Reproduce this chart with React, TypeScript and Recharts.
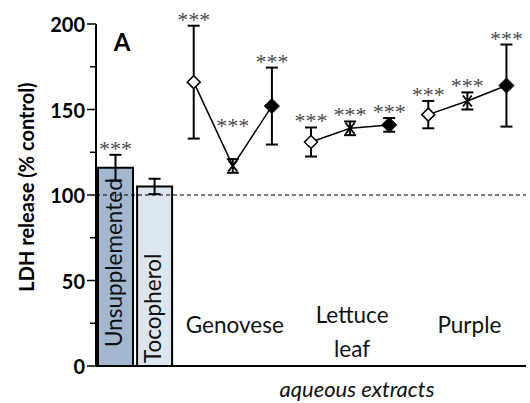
import { Bar, Cell, ComposedChart, ErrorBar, LabelList, Line, ReferenceLine, XAxis, YAxis } from "recharts";

// control wells (bars)
const controlNames = ["Unsupplemented", "Tocopherol"];
const controlMean = [116, 105];
const controlErr = [7.5, 4.5];
const controlStars = ["***", ""];

// aqueous extracts, three points per extract
const extractNames = ["Genovese", "Lettuce leaf", "Purple"];
const genoveseMean = [166, 117, 152];
const genoveseErr = [33, 4, 22.5];
const lettuceMean = [131, 139, 141];
const lettuceErr = [8.5, 4, 4];
const purpleMean = [147, 155, 164];
const purpleErr = [8, 5, 24];
const extractStars = ["***", "***", "***"];

const yTicks = [0, 25, 50, 75, 100, 125, 150, 175, 200];

const SANS = "Lato, 'Open Sans', sans-serif";
const barFills = ["#a3b8cf", "#dce6ee"];
// where the rotated name starts, measured up from the axis
const barTextLift = [19, 3];
const markerKinds = ["open", "cross", "filled"];
// share of the gap to a neighbour that the *** text spans sideways
const starHalfSpan = 0.4;

const extractSeries = [
  { key: "genovese", mean: genoveseMean, err: genoveseErr },
  { key: "lettuce", mean: lettuceMean, err: lettuceErr },
  { key: "purple", mean: purpleMean, err: purpleErr },
];

// lift the *** above the error bar, and above the joining line where it would cross it
const starLevel = (mean: number[], err: number[], j: number) => {
  let top = mean[j] + err[j];
  [j - 1, j + 1].forEach((k) => {
    if (k >= 0 && k < mean.length) {
      top = Math.max(top, mean[j] + starHalfSpan * (mean[k] - mean[j]));
    }
  });
  return top;
};

type Row = Record<string, string | number | null>;
const rows: Row[] = [];
controlNames.forEach((name, i) => {
  rows.push({
    name,
    control: controlMean[i],
    controlErr: controlErr[i],
    star: controlStars[i] ? controlMean[i] + controlErr[i] : null,
    starText: controlStars[i],
    group: null,
    slot: null,
  });
});
extractSeries.forEach((s, g) => {
  s.mean.forEach((v, j) => {
    const row: Row = {
      name: `${extractNames[g]} ${j + 1}`,
      group: extractNames[g],
      slot: j,
      star: starLevel(s.mean, s.err, j),
      starText: extractStars[j],
    };
    row[s.key] = v;
    row[`${s.key}Err`] = s.err[j];
    rows.push(row);
  });
});

const renderMarker = (props: any) => {
  const { cx, cy, index, payload } = props;
  if (cx == null || cy == null || payload == null) return <g key={`m-${index}`} />;
  const kind = markerKinds[payload.slot as number];
  if (kind === "open") {
    const r = 6.5;
    return (
      <polygon
        key={`m-${index}`}
        points={`${cx},${cy - r} ${cx + r},${cy} ${cx},${cy + r} ${cx - r},${cy}`}
        fill="#fff"
        stroke="#000"
        strokeWidth={1.5}
      />
    );
  }
  if (kind === "filled") {
    const r = 7.5;
    return (
      <polygon
        key={`m-${index}`}
        points={`${cx},${cy - r} ${cx + r},${cy} ${cx},${cy + r} ${cx - r},${cy}`}
        fill="#000"
        stroke="#000"
        strokeWidth={1}
      />
    );
  }
  const d = 4.5;
  return (
    <g key={`m-${index}`} stroke="#000" strokeWidth={1.8}>
      <line x1={cx - d} y1={cy - d - 1} x2={cx + d} y2={cy + d + 1} />
      <line x1={cx - d} y1={cy + d + 1} x2={cx + d} y2={cy - d - 1} />
    </g>
  );
};

const renderYTick = (props: any) => {
  const { x, y, payload } = props;
  const major = payload.value % 50 === 0;
  return (
    <g>
      <line x1={x - (major ? 9 : 6)} y1={y} x2={x} y2={y} stroke="#000" strokeWidth={1.5} />
      {major && (
        <text
          x={x - 11}
          y={y}
          textAnchor="end"
          dominantBaseline="central"
          fontFamily={SANS}
          fontWeight={700}
          fontSize={20}
          fill="#000"
        >
          {payload.value}
        </text>
      )}
    </g>
  );
};

const renderGroupTick = (props: any) => {
  const { x, y, index } = props;
  const row = rows[index];
  if (!row || row.slot !== 1) return <g />;
  const words = String(row.group).split(" ");
  const lines = words.length > 1 ? [words[0], words.slice(1).join(" ")] : words;
  const baselines = lines.length > 1 ? [y - 43, y - 9] : [y - 33];
  return (
    <g>
      {lines.map((t, i) => (
        <text
          key={t}
          x={x + 2}
          y={baselines[i]}
          textAnchor="middle"
          fontFamily={SANS}
          fontSize={22.5}
          fill="#111"
        >
          {t}
        </text>
      ))}
    </g>
  );
};

const renderBarName = (props: any) => {
  const { x, y, width, height, index } = props;
  const bx = x + width / 2 + 6;
  const by = y + height - barTextLift[index];
  return (
    <text
      x={bx}
      y={by}
      transform={`rotate(-90 ${bx} ${by})`}
      textAnchor="start"
      fontFamily={SANS}
      fontSize={22.5}
      fill="#111"
    >
      {controlNames[index]}
    </text>
  );
};

const renderStars = (props: any) => {
  const { x, y, value, index } = props;
  if (!value || y == null) return <g key={`s-${index}`} />;
  return (
    <text
      key={`s-${index}`}
      x={x}
      y={y + 1}
      textAnchor="middle"
      fontFamily="'Liberation Serif', 'DejaVu Serif', serif"
      fontSize={22}
      fill="#4a4a4a"
    >
      {value}
    </text>
  );
};

export default function App() {
  return (
    <div style={{ position: "absolute", left: 0, top: 0, background: "#fff" }}>
      <ComposedChart
        width={530}
        height={403}
        data={rows}
        margin={{ top: 24, right: 4, bottom: 0, left: 0 }}
        barCategoryGap={2}
      >
        <ReferenceLine y={100} stroke="#000" strokeWidth={1} strokeDasharray="4 3" />
        <XAxis
          dataKey="name"
          type="category"
          interval={0}
          height={37}
          tickLine={false}
          tickSize={0}
          tickMargin={0}
          axisLine={{ stroke: "#000", strokeWidth: 2 }}
          tick={renderGroupTick}
          label={(p: any) => {
            const vb = p.viewBox;
            return (
              <text
                x={vb.x + vb.width / 2 + 46}
                y={vb.y + 31}
                textAnchor="middle"
                fontFamily={SANS}
                fontStyle="italic"
                fontSize={22}
                fill="#111"
              >
                aqueous extracts
              </text>
            );
          }}
        />
        <YAxis
          type="number"
          domain={[0, 200]}
          ticks={yTicks}
          interval={0}
          width={96}
          tickLine={false}
          tickSize={0}
          tickMargin={0}
          axisLine={{ stroke: "#000", strokeWidth: 2 }}
          tick={renderYTick}
          label={(p: any) => {
            const vb = p.viewBox;
            const cx = 26;
            const cy = vb.y + vb.height / 2 - 8;
            return (
              <text
                x={cx}
                y={cy}
                transform={`rotate(-90 ${cx} ${cy})`}
                textAnchor="middle"
                dominantBaseline="central"
                fontFamily={SANS}
                fontWeight={700}
                fontSize={20}
                fill="#000"
              >
                LDH release (% control)
              </text>
            );
          }}
        />
        <Bar dataKey="control" barSize={35} stroke="#000" strokeWidth={2} isAnimationActive={false}>
          {controlNames.map((n, i) => (
            <Cell key={n} fill={barFills[i]} />
          ))}
          <ErrorBar dataKey="controlErr" width={6} stroke="#000" strokeWidth={2} direction="y" />
          <LabelList dataKey="control" content={renderBarName} />
        </Bar>
        {extractSeries.map((s) => (
          <Line
            key={s.key}
            dataKey={s.key}
            stroke="#000"
            strokeWidth={1.5}
            connectNulls={false}
            dot={renderMarker}
            activeDot={false}
            isAnimationActive={false}
          >
            <ErrorBar dataKey={`${s.key}Err`} width={6} stroke="#000" strokeWidth={2} direction="y" />
          </Line>
        ))}
        <Line dataKey="star" stroke="none" dot={false} activeDot={false} isAnimationActive={false}>
          <LabelList dataKey="starText" content={renderStars} />
        </Line>
        <text x={122} y={51} textAnchor="middle" fontFamily={SANS} fontWeight={700} fontSize={24} fill="#000">
          A
        </text>
      </ComposedChart>
    </div>
  );
}
